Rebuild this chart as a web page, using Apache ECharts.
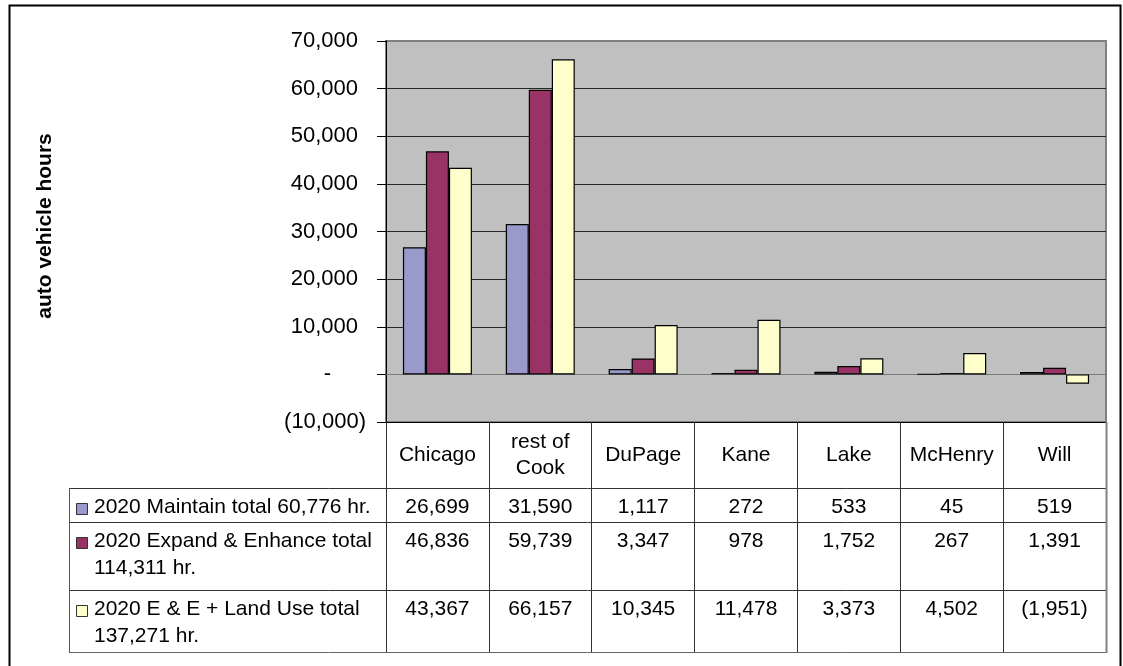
<!DOCTYPE html>
<html>
<head>
<meta charset="utf-8">
<script src="https://cdn.jsdelivr.net/npm/echarts@6/dist/echarts.min.js"></script>
<style>
  html, body { margin: 0; padding: 0; background: #ffffff; }
  #chart { width: 1123px; height: 666px; }
</style>
</head>
<body>
<div id="chart"></div>
<script>
// Auto vehicle hours by county, three 2020 scenarios
const categories = ['Chicago', 'rest of Cook', 'DuPage', 'Kane', 'Lake', 'McHenry', 'Will'];
const seriesNames = [
  '2020 Maintain total 60,776 hr.',
  '2020 Expand & Enhance total 114,311 hr.',
  '2020 E & E + Land Use total 137,271 hr.'
];
const maintainValues = [26699, 31590, 1117, 272, 533, 45, 519];
const expandValues = [46836, 59739, 3347, 978, 1752, 267, 1391];
const landUseValues = [43367, 66157, 10345, 11478, 3373, 4502, -1951];
const yMin = -10000;
const yMax = 70000;
const yStep = 10000;
const yAxisTitle = 'auto vehicle hours';

const seriesValues = [maintainValues, expandValues, landUseValues];
const seriesColors = ['#9999CC', '#993366', '#FFFFCC'];

const FAMILY = 'Liberation Sans';
const FS = 21;      // table and category text
const FS_Y = 22;    // value axis labels

// accounting style: 1,234 / (1,234) / -
function fmt(v) {
  if (v === 0) return '-';
  const s = Math.abs(v).toLocaleString('en-US');
  return v < 0 ? '(' + s + ')' : s;
}

// word-wrap a label to a pixel width, measured with the drawing font
const measureCtx = document.createElement('canvas').getContext('2d');
function wrapWords(text, maxWidth, fontSize) {
  measureCtx.font = fontSize + 'px "' + FAMILY + '"';
  const words = text.split(' ');
  const lines = [];
  let cur = '';
  words.forEach(function (w) {
    const trial = cur ? cur + ' ' + w : w;
    if (cur && measureCtx.measureText(trial).width > maxWidth) {
      lines.push(cur);
      cur = w;
    } else {
      cur = trial;
    }
  });
  if (cur) lines.push(cur);
  return lines.join('\n');
}

// plot area and table geometry
const plotLeft = 386, plotRight = 1106, plotTop = 41, plotBottom = 422;
const rowLines = [488, 522, 590, 652];
const legendLeft = 69;
const legendTextX = 94;
const LINE_H = 27;

const chart = echarts.init(document.getElementById('chart'), null, { renderer: 'canvas' });

const option = {
  animation: false,
  backgroundColor: '#ffffff',
  textStyle: { fontFamily: FAMILY },
  grid: {
    left: plotLeft,
    top: plotTop,
    width: plotRight - plotLeft,
    height: plotBottom - plotTop,
    show: true,
    backgroundColor: '#C0C0C0',
    borderColor: '#808080',
    borderWidth: 2
  },
  xAxis: [
    {
      type: 'category',
      data: categories,
      position: 'bottom',
      boundaryGap: true,
      axisLine: { show: true, onZero: false, lineStyle: { color: '#000', width: 1 } },
      axisTick: { show: true, interval: 0, inside: false, length: rowLines[3] - plotBottom, lineStyle: { color: '#333', width: 1 } },
      axisLabel: {
        interval: 0,
        color: '#000',
        fontFamily: FAMILY,
        fontSize: FS,
        lineHeight: 26,
        formatter: function (name) { return wrapWords(name, 94, FS); },
        verticalAlign: 'middle',
        margin: 33
      },
      splitLine: { show: false }
    },
    {
      type: 'category',
      data: categories,
      axisLine: { show: true, onZero: true, lineStyle: { color: '#7a7a7a', width: 1 } },
      axisTick: { show: false },
      axisLabel: { show: false },
      splitLine: { show: false }
    }
  ],
  yAxis: {
    type: 'value',
    min: yMin,
    max: yMax,
    interval: yStep,
    axisLine: { show: true, lineStyle: { color: '#000', width: 1 } },
    axisTick: { show: true, inside: false, length: 9, lineStyle: { color: '#000' } },
    axisLabel: {
      color: '#000',
      fontFamily: FAMILY,
      fontSize: FS_Y,
      margin: 20,
      formatter: function (v) {
        if (v === 0) return '{t|-}{zp| }';
        if (v < 0) return '{t|' + fmt(v) + '}';
        return '{t|' + fmt(v) + '}{pp| }';
      },
      rich: {
        t: { fontSize: FS_Y, fontFamily: FAMILY, color: '#000' },
        pp: { width: 8, fontSize: FS_Y },
        zp: { width: 35, fontSize: FS_Y }
      }
    },
    splitLine: { show: true, showMinLine: false, showMaxLine: false, lineStyle: { color: '#262626', width: 1 } }
  },
  series: seriesValues.map(function (vals, i) {
    return {
      name: seriesNames[i],
      type: 'bar',
      xAxisIndex: 0,
      data: vals,
      barWidth: 23,
      barGap: '0%',
      itemStyle: { color: seriesColors[i], borderColor: '#000', borderWidth: 1.2 },
      emphasis: { disabled: true }
    };
  })
};

chart.setOption(option);

// data table, legend keys, frame and axis title
function buildGraphics() {
  const g = [];
  const lineColor = '#333';
  // outer frame
  g.push({ type: 'rect', shape: { x: 9.5, y: 5.5, width: 1111, height: 720 },
    style: { fill: 'none', stroke: '#000', lineWidth: 2 }, silent: true, z: 100 });
  // table horizontal rules
  rowLines.forEach(function (y, k) {
    g.push({ type: 'line', shape: { x1: legendLeft, y1: y + 0.5, x2: plotRight, y2: y + 0.5 },
      style: { stroke: k === 3 ? '#666' : lineColor, lineWidth: 1 }, silent: true, z: 50 });
  });
  // legend column left edge
  g.push({ type: 'line', shape: { x1: legendLeft + 0.5, y1: rowLines[0], x2: legendLeft + 0.5, y2: rowLines[3] },
    style: { stroke: '#555', lineWidth: 1 }, silent: true, z: 50 });
  // table right edge
  g.push({ type: 'line', shape: { x1: plotRight + 0.5, y1: plotBottom, x2: plotRight + 0.5, y2: rowLines[3] + 1 },
    style: { stroke: '#808080', lineWidth: 2 }, silent: true, z: 51 });

  for (let s = 0; s < 3; s++) {
    const top = rowLines[s];
    const firstLine = top + 19.5;
    // legend key
    g.push({ type: 'rect', shape: { x: 76.5, y: Math.round(firstLine - 5) + 0.5, width: 11, height: 11 },
      style: { fill: seriesColors[s], stroke: '#333', lineWidth: 1 }, silent: true, z: 60 });
    // legend text
    g.push({ type: 'text', silent: true, z: 60,
      style: { text: wrapWords(seriesNames[s], plotLeft - legendTextX - 4, FS),
        x: legendTextX, y: firstLine - LINE_H / 2,
        fontFamily: FAMILY, fontSize: FS, fill: '#000', lineHeight: LINE_H,
        align: 'left', verticalAlign: 'top' } });
    // values
    seriesValues[s].forEach(function (v, i) {
      const x = chart.convertToPixel({ xAxisIndex: 0 }, categories[i]);
      g.push({ type: 'text', silent: true, z: 60,
        style: { text: fmt(v), x: x, y: firstLine, fontFamily: FAMILY, fontSize: FS, fill: '#000',
          align: 'center', verticalAlign: 'middle' } });
    });
  }

  // y axis title
  g.push({ type: 'text', silent: true, z: 60, x: 45, y: 226, rotation: Math.PI / 2,
    style: { text: yAxisTitle, x: 0, y: 0, fontFamily: FAMILY, fontWeight: 'bold', fontSize: FS, fill: '#000',
      align: 'center', verticalAlign: 'middle' } });
  return g;
}

chart.setOption({ graphic: buildGraphics() });
</script>
</body>
</html>
